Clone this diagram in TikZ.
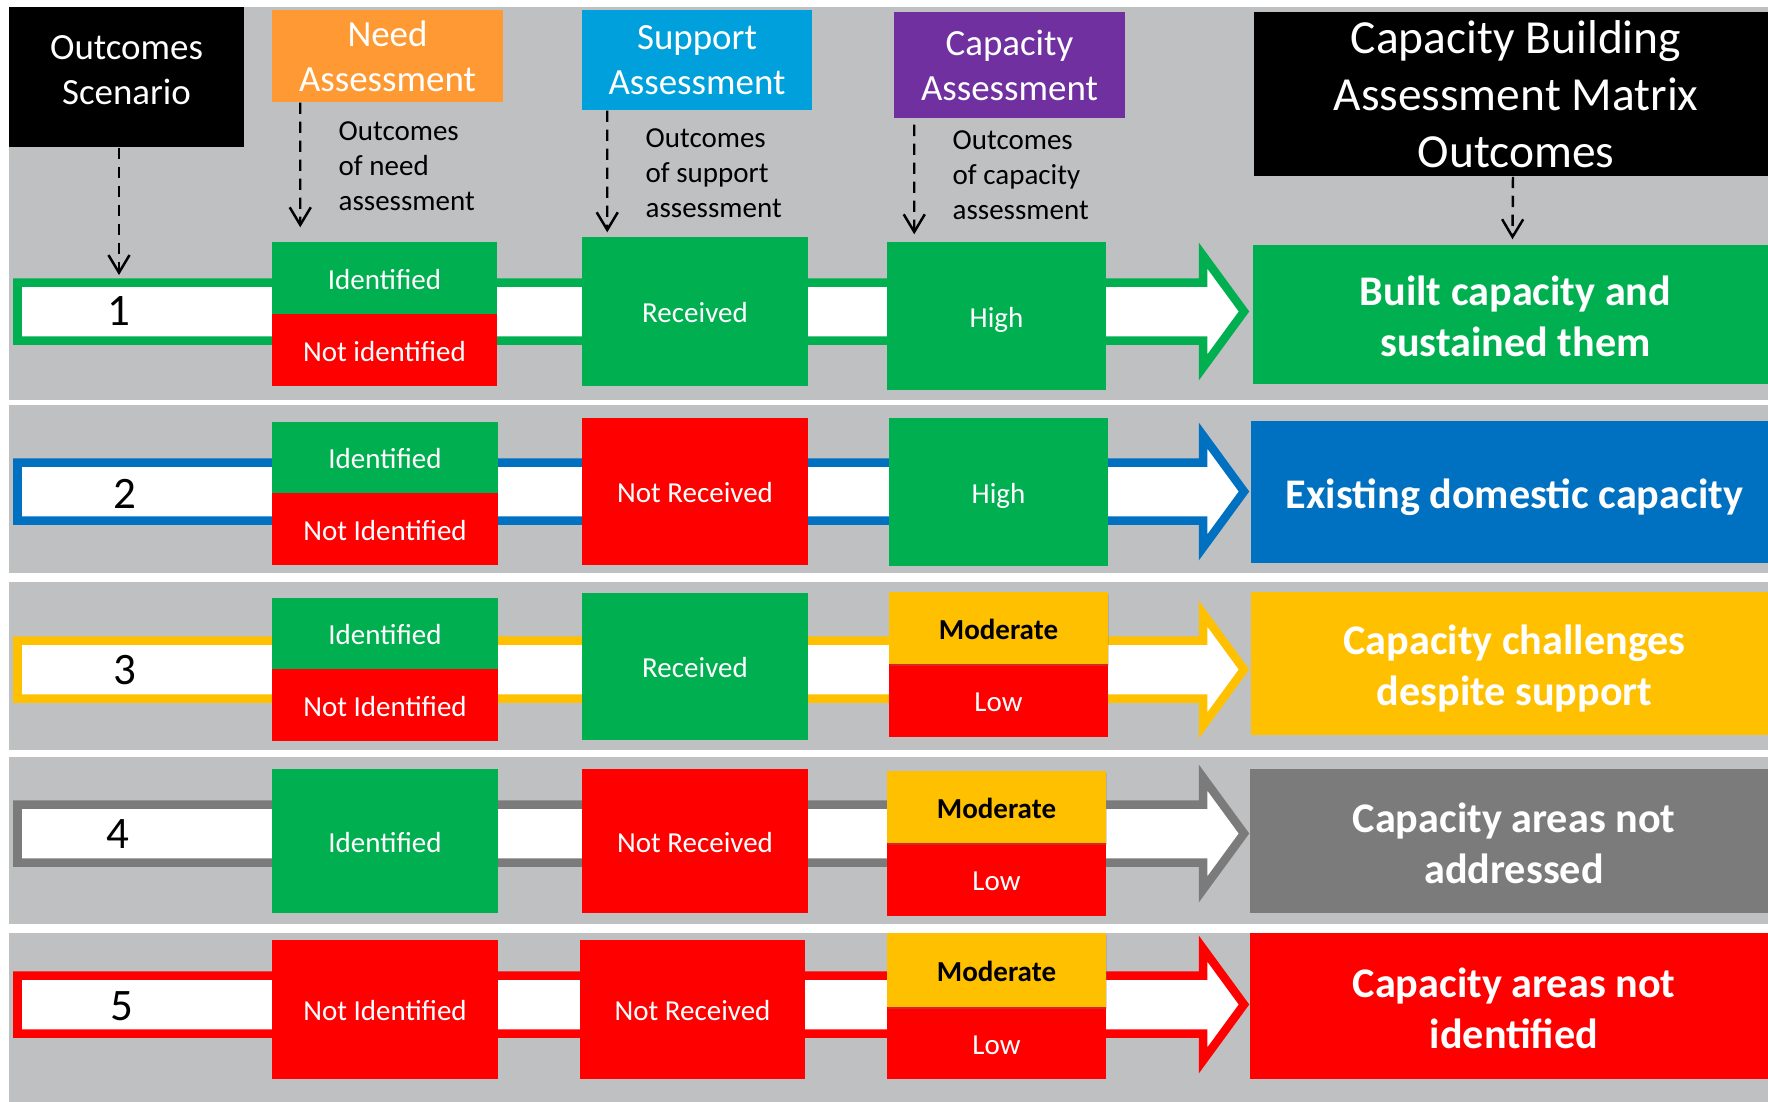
\documentclass[tikz,border=0pt]{standalone}
\usepackage{fontspec}
\setmainfont{Carlito}
\usetikzlibrary{arrows.meta,shadows}

\definecolor{bandgray}{HTML}{BFC0C2}
\definecolor{cgreen}{HTML}{00B050}
\definecolor{cred}{HTML}{FF0000}
\definecolor{cblue}{HTML}{0070C0}
\definecolor{cyellow}{HTML}{FFC000}
\definecolor{cgray}{HTML}{7B7B7B}
\definecolor{needorange}{HTML}{FF9933}
\definecolor{suppblue}{HTML}{00A0DC}
\definecolor{cappurple}{HTML}{7030A0}

\tikzset{
  band/.style={fill=bandgray},
  hdr/.style={fill=#1, text=white, inner sep=0pt, align=center, font=\fontsize{10.5}{12.8}\selectfont},
  note/.style={anchor=west, inner sep=0pt, align=left, font=\fontsize{8.25}{10}\selectfont},
  cell/.style={fill=#1, text=white, inner sep=0pt, text height=6.3pt, text depth=0pt, font=\fontsize{8.25}{10}\selectfont},
  boldcell/.style={cell=#1, text=black, font=\bfseries\fontsize{8.25}{10}\selectfont,
    drop shadow={opacity=0.3, shadow xshift=0.3pt, shadow yshift=-0.7pt}},
  outc/.style={fill=#1, text=white, inner sep=0pt, align=center, text height=24pt, text depth=0pt, font=\bfseries\fontsize{12}{14.5}\selectfont},
  num/.style={inner sep=0pt, font=\fontsize{12.8}{15}\selectfont},
  flow/.style={draw=#1, fill=white, line width=0.085cm, line join=miter},
  dasharrow/.style={dash pattern=on 3.2pt off 2.2pt, line width=0.7pt, -{Straight Barb[length=5pt,width=6pt]}}
}

\begin{document}
\begin{tikzpicture}[x=0.01cm, y=-0.01cm]
    \fill[white] (0,0) rectangle (1768,1102);
    \useasboundingbox (0,0) rectangle (1768,1102);
    % gray bands
    \fill[band] (9,7) rectangle (1768,400);
    \fill[band] (9,405) rectangle (1768,573);
    \fill[band] (9,582) rectangle (1768,750);
    \fill[band] (9,757) rectangle (1768,924);
    \fill[band] (9,933) rectangle (1768,1102);
    % scenario arrows
    \draw[flow=cgreen] (17.5,282.5) -- (1203,282.5) -- (1203,255.5) -- (1244,311.5) -- (1203,367.5) -- (1203,340.5) -- (17.5,340.5) -- cycle;
    \draw[flow=cblue] (17.5,462.5) -- (1203,462.5) -- (1203,435.5) -- (1244,491.5) -- (1203,547.5) -- (1203,520.5) -- (17.5,520.5) -- cycle;
    \draw[flow=cyellow] (17.5,640.5) -- (1203,640.5) -- (1203,613.5) -- (1244,669.5) -- (1203,725.5) -- (1203,698.5) -- (17.5,698.5) -- cycle;
    \draw[flow=cgray] (17.5,804.5) -- (1203,804.5) -- (1203,777.5) -- (1244,833.5) -- (1203,889.5) -- (1203,862.5) -- (17.5,862.5) -- cycle;
    \draw[flow=cred] (17.5,975.5) -- (1203,975.5) -- (1203,948.5) -- (1244,1004.5) -- (1203,1060.5) -- (1203,1033.5) -- (17.5,1033.5) -- cycle;
    % headers
    \node[hdr=black, minimum width=2.35cm, minimum height=1.40cm, text depth=0.14cm] (hdrscen) at (126.5,77) {Outcomes\\Scenario};
    \node[hdr=needorange, minimum width=2.31cm, minimum height=0.92cm] (hdrneed) at (387.5,56) {Need\\Assessment};
    \node[hdr=suppblue, minimum width=2.30cm, minimum height=1.00cm] (hdrsupp) at (697,60) {Support\\Assessment};
    \node[hdr=cappurple, minimum width=2.31cm, minimum height=1.06cm] (hdrcap) at (1009.5,65) {Capacity\\Assessment};
    \node[hdr=black, minimum width=5.24cm, minimum height=1.64cm, font=\fontsize{13.5}{16.2}\selectfont] (hdrmatrix) at (1516,94) {Capacity Building\\Assessment Matrix\\Outcomes};
    \node[note] (notneed) at (338,166.5) {Outcomes\\of need\\assessment};
    \node[note] (notsupp) at (645,173.5) {Outcomes\\of support\\assessment};
    \node[note] (notcap) at (952,175) {Outcomes\\of capacity\\assessment};
    % scenario 1
    \node[num] (num1) at (119,311) {1};
    \node[cell=cgreen, minimum width=2.25cm, minimum height=0.72cm] (need1a) at (384.5,278) {Identified};
    \node[cell=cred, minimum width=2.25cm, minimum height=0.72cm] (need1b) at (384.5,350) {Not identified};
    \node[cell=cgreen, minimum width=2.26cm, minimum height=1.49cm] (supp1) at (695,311.5) {Received};
    \node[cell=cgreen, minimum width=2.19cm, minimum height=1.48cm] (cap1) at (996.5,316) {High};
    \node[outc=cgreen, minimum width=5.25cm, minimum height=1.39cm] (out1) at (1515.5,314.5) {Built capacity and\\sustained them};
    % scenario 2
    \node[num] (num2) at (125,494) {2};
    \node[cell=cgreen, minimum width=2.26cm, minimum height=0.71cm] (need2a) at (385,457.5) {Identified};
    \node[cell=cred, minimum width=2.26cm, minimum height=0.72cm] (need2b) at (385,529) {Not Identified};
    \node[cell=cred, minimum width=2.26cm, minimum height=1.47cm] (supp2) at (695,491.5) {Not Received};
    \node[cell=cgreen, minimum width=2.19cm, minimum height=1.48cm] (cap2) at (998.5,492) {High};
    \node[outc=cblue, minimum width=5.27cm, minimum height=1.42cm, text height=9.5pt] (out2) at (1514.5,492) {Existing domestic capacity};
    % scenario 3
    \node[num] (num3) at (125,670) {3};
    \node[cell=cgreen, minimum width=2.26cm, minimum height=0.71cm] (need3a) at (385,633.5) {Identified};
    \node[cell=cred, minimum width=2.26cm, minimum height=0.72cm] (need3b) at (385,705) {Not Identified};
    \node[cell=cgreen, minimum width=2.26cm, minimum height=1.47cm] (supp3) at (695,666.5) {Received};
    \node[cell=cred, minimum width=2.19cm, minimum height=0.73cm] (cap3b) at (998.5,700.5) {Low};
    \node[boldcell=cyellow, minimum width=2.19cm, minimum height=0.72cm] (cap3a) at (998.5,628) {Moderate};
    \node[outc=cyellow, minimum width=5.27cm, minimum height=1.43cm] (out3) at (1514.5,663.5) {Capacity challenges\\despite support};
    % scenario 4
    \node[num] (num4) at (118,834) {4};
    \node[cell=cgreen, minimum width=2.26cm, minimum height=1.44cm] (need4) at (385,841) {Identified};
    \node[cell=cred, minimum width=2.26cm, minimum height=1.44cm] (supp4) at (695,841) {Not Received};
    \node[cell=cred, minimum width=2.19cm, minimum height=0.73cm] (cap4b) at (996.5,879.5) {Low};
    \node[boldcell=cyellow, minimum width=2.19cm, minimum height=0.72cm] (cap4a) at (996.5,807) {Moderate};
    \node[outc=cgray, minimum width=5.28cm, minimum height=1.44cm] (out4) at (1514,841) {Capacity areas not\\addressed};
    % scenario 5
    \node[num] (num5) at (122,1006) {5};
    \node[cell=cred, minimum width=2.26cm, minimum height=1.39cm] (need5) at (385,1009.5) {Not Identified};
    \node[cell=cred, minimum width=2.25cm, minimum height=1.39cm] (supp5) at (692.5,1009.5) {Not Received};
    \node[cell=cred, minimum width=2.19cm, minimum height=0.72cm] (cap5b) at (996.5,1043) {Low};
    \node[boldcell=cyellow, minimum width=2.19cm, minimum height=0.74cm] (cap5a) at (996.5,970) {Moderate};
    \node[outc=cred, minimum width=5.28cm, minimum height=1.46cm] (out5) at (1514,1006) {Capacity areas not\\identified};
    % dashed links
    \coordinate (scenin) at (119,275);
    \draw[dasharrow] (hdrscen.south -| scenin) -- (scenin);
    \draw[dasharrow] ([xshift=0.29cm]hdrneed.south west) -- ([xshift=0.29cm,yshift=0.14cm]need1a.north west);
    \draw[dasharrow] ([xshift=0.26cm]hdrsupp.south west) -- ([xshift=0.26cm,yshift=0.04cm]supp1.north west);
    \draw[dasharrow] ([xshift=0.21cm,yshift=-0.06cm]hdrcap.south west) -- ([xshift=0.28cm,yshift=0.07cm]cap1.north west);
    \draw[dasharrow] ([xshift=-0.03cm]hdrmatrix.south) -- ([xshift=-0.03cm,yshift=0.05cm]out1.north);
\end{tikzpicture}
\end{document}
